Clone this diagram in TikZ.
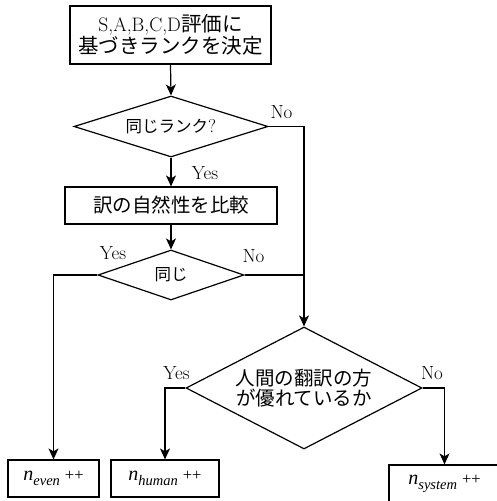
\documentclass[tikz,border=0pt]{standalone}
\usepackage{fontspec}
\newfontfamily\jp{Noto Sans CJK JP}
\newfontfamily\tms{Liberation Serif}
\usetikzlibrary{shapes.geometric,arrows.meta}
\newcommand{\ncnt}[1]{{\tms\fontsize{20}{20}\selectfont\itshape n}\raisebox{-5.5pt}{\tms\fontsize{14.5}{14.5}\selectfont\itshape #1}\hspace{5pt}{\tms\fontsize{16.5}{16.5}\selectfont ++}}
\tikzset{
 box/.style={draw,line width=1.2pt,inner sep=0pt,align=center},
 dia/.style={draw,diamond,line width=1.2pt,inner sep=0pt,align=center},
 arr/.style={line width=1.2pt,-{Stealth[length=11pt,width=10pt,inset=3pt]}},
 ln/.style={line width=1.2pt},
 lbl/.style={inner sep=0pt,font=\fontsize{19}{20}\selectfont},
}
\begin{document}
\begin{tikzpicture}[x=1pt,y=-1pt]
\useasboundingbox (0,0) rectangle (496,501);
\node[box,minimum width=201pt,minimum height=58pt,font=\fontsize{19.5}{22}\selectfont] (b1) at (170.5,35)
 {S,A,B,C,D{\jp\fontsize{20.5}{22}\selectfont 評価に}\\{\jp\fontsize{20.5}{22}\selectfont 基づきランクを決定}};
\node[dia,minimum width=194pt,minimum height=61pt,shape aspect=3.2,font=\jp\fontsize{16.5}{18}\selectfont] (d1) at (171,126.5)
 {同じランク{\rmfamily\fontsize{18.5}{18}\selectfont ?}};
\node[box,minimum width=212pt,minimum height=37pt,font=\jp\fontsize{19.5}{20}\selectfont] (b2) at (171,205.5)
 {訳の自然性を比較};
\node[dia,minimum width=146pt,minimum height=50pt,shape aspect=2.92,font=\jp\fontsize{16.5}{18}\selectfont] (d2) at (171,275)
 {同じ};
\node[dia,minimum width=236pt,minimum height=122pt,shape aspect=1.93,font=\jp\fontsize{19.5}{20}\selectfont] (d3) at (304,388)
 {人間の翻訳の方\\が優れているか};
\node[box,minimum width=91pt,minimum height=37pt] (ne) at (53.5,478.5) {\ncnt{even}};
\node[box,minimum width=108pt,minimum height=37pt] (nh) at (165,478.5) {\ncnt{human}};
\node[box,minimum width=111pt,minimum height=38pt] (ns) at (444.5,484) {\ncnt{system}};

\draw[arr] (b1.south) -- (d1.north);
\draw[arr] (d1.east) -| (d3.north);
\draw[arr] (d1.south) -- (b2.north);
\draw[arr] (b2.south) -- (d2.north);
\draw[arr] (d2.west) -| (ne.north);
\draw[ln] (d2.east) -- (d2.east -| d3.north);
\draw[arr] (d3.west) -| (nh.north);
\draw[arr] (d3.east) -| (ns.north);

\node[lbl] (y1) at (205,173.5) {Yes};
\node[lbl] (n1) at (281.5,112.5) {No};
\node[lbl] (y2) at (113,253.5) {Yes};
\node[lbl] (n2) at (253.5,256.5) {No};
\node[lbl] (y3) at (176.5,373) {Yes};
\node[lbl] (n3) at (432,373) {No};
\end{tikzpicture}
\end{document}
